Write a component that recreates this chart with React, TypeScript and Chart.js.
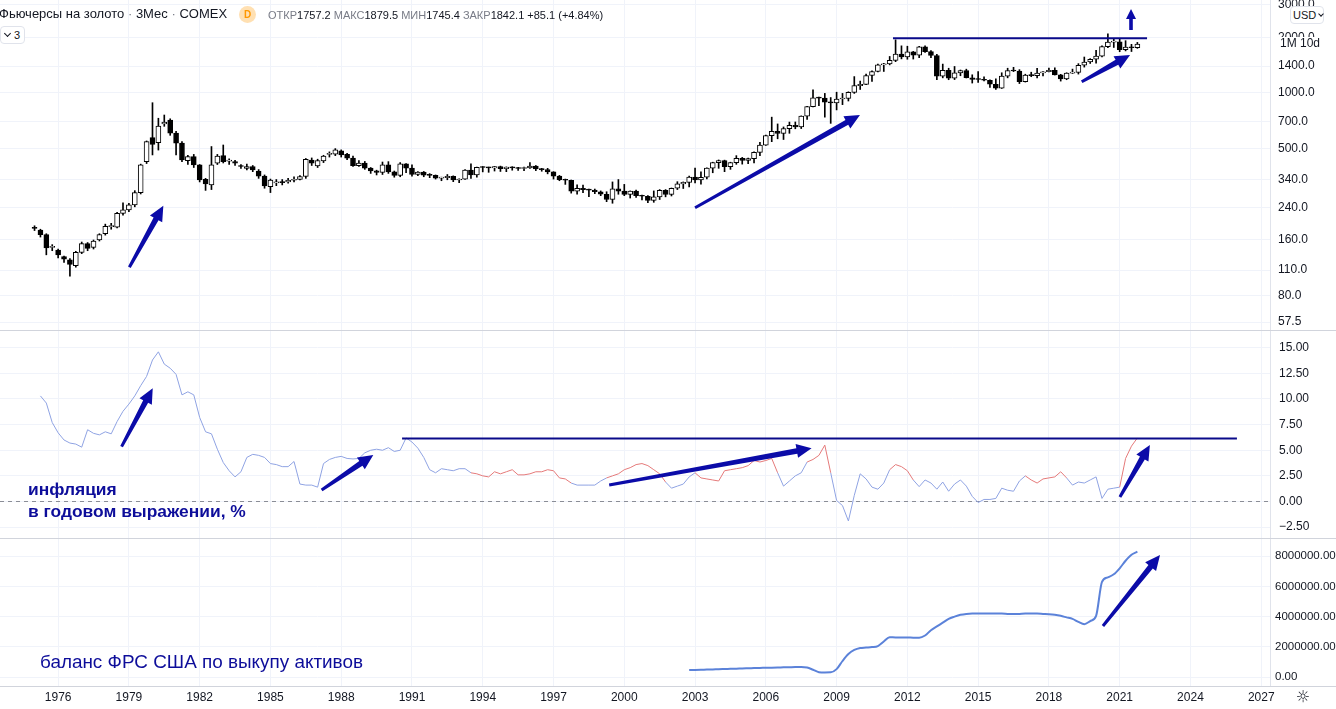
import React, { useEffect, useRef } from "react";
import { Chart, registerables } from "chart.js";

Chart.register(...registerables);

const FONT = "'Liberation Sans', Arial, sans-serif";
const ANNOT_FONT = "'Liberation Sans', Arial, sans-serif";
const TEXT = "#131722";
const GRID = "#f0f3fa";
const SEP = "#d1d4dc";
const LEVEL = "#0a0a8a";
const ARROW = "#0b0ba8";
const ANNOT = "#0d0d9a";
const INFL_BLUE = "#8fa3e3";
const INFL_RED = "#e57a7a";
const FED = "#5b82d9";

const X_MIN = 1973.536;
const X_MAX = 2027.372;

// ---------- data ----------
const firstQuarter = 1975;
const opens = [186,181,171,146,141,130,125,116,137,153,146,160,173,189,188,223,233,248,289,425,
573,539,680,714,606,535,430,452,408,341,318,417,458,428,425,401,390,400,378,355,
311,326,328,330,337,341,353,434,403,429,465,466,486,466,444,404,418,392,379,372,
408,374,358,414,392,362,373,359,358,346,348,354,338,342,383,360,396,395,393,399,
389,397,393,390,393,402,388,385,374,355,339,337,294,305,300,298,292,283,265,303,
294,282,294,278,276,262,274,297,282,305,322,328,351,338,350,392,420,430,399,420,
443,432,441,477,522,588,620,604,642,669,656,750,844,942,939,893,884,928,934,1007,
1097,1113,1244,1307,1421,1439,1502,1624,1566,1669,1604,1776,1675,1596,1234,1328,1202,1284,1322,1210,
1184,1183,1172,1115,1061,1234,1322,1316,1152,1249,1242,1283,1303,1327,1254,1192,1282,1293,1413,1472,
1523,1583,1781,1887,1895,1715,1771,1757.2];
const highs = [191,183,173,151,143,131,127,139,156,155,160,173,195,197,226,254,253,296,412,550,
886,730,760,725,620,545,460,465,410,345,513,465,523,440,432,410,412,405,385,360,
342,340,340,345,352,357,442,445,438,460,480,500,492,472,455,430,426,395,382,423,
425,378,420,415,408,375,376,366,360,350,362,356,343,385,414,397,400,397,400,402,
398,399,396,397,420,405,391,391,375,358,342,338,318,317,302,302,295,292,330,340,
320,295,298,280,278,295,300,300,306,331,330,355,392,374,393,422,434,433,422,458,
448,444,480,540,591,740,680,655,696,697,752,848,1040,950,995,945,1010,995,1015,1227,
1160,1265,1320,1432,1448,1577,1940,1800,1792,1680,1790,1800,1697,1617,1434,1362,1392,1332,1346,1255,
1308,1224,1178,1192,1287,1362,1377,1338,1264,1296,1362,1306,1366,1369,1262,1287,1347,1442,1566,1535,
1704,1800,2089,1966,1962,1920,1834,1879.5];
const lows = [180,166,133,140,128,121,102,114,135,140,143,158,170,183,186,218,228,242,284,415,
462,491,660,590,462,425,410,395,330,297,300,410,418,410,405,390,383,375,345,305,
289,315,318,325,330,338,345,405,395,420,450,458,450,435,401,400,386,367,360,362,
367,350,352,370,355,357,352,348,342,335,339,331,327,340,345,350,374,372,378,376,
375,382,381,380,390,380,377,365,342,335,320,287,283,289,275,285,278,258,253,283,
278,270,272,264,255,256,265,274,277,300,304,310,326,321,343,370,391,375,386,411,
412,414,418,458,520,545,565,560,605,640,642,720,840,855,740,685,810,865,905,995,
1045,1110,1155,1300,1308,1420,1478,1530,1523,1527,1555,1660,1555,1180,1208,1180,1182,1240,1206,1132,
1142,1162,1072,1046,1058,1208,1306,1125,1146,1225,1205,1236,1302,1251,1160,1180,1276,1266,1381,1445,
1451,1568,1757,1764,1673,1690,1677,1745.4];
const closes = [185,171,145,147,133,126,118,137,153,144,158,171,190,190,223,233,248,289,408,545,
527,663,695,606,535,434,452,408,338,322,408,456,425,429,417,400,400,383,355,314,
338,327,327,337,339,353,438,417,431,456,466,492,462,444,404,418,392,379,372,408,
374,358,414,392,362,373,359,358,346,348,354,338,342,383,360,396,395,393,399,389,
397,393,390,393,402,388,385,374,355,339,337,294,305,300,298,292,283,265,303,294,
282,294,278,276,262,274,297,282,305,322,328,351,338,350,392,420,430,399,420,443,
432,441,477,522,588,620,604,642,669,656,750,844,942,939,893,884,928,934,1007,1097,
1113,1244,1307,1421,1439,1502,1624,1566,1669,1604,1776,1675,1596,1234,1328,1202,1284,1322,1210,1184,
1183,1172,1115,1061,1234,1322,1316,1152,1249,1242,1283,1303,1327,1254,1192,1282,1293,1413,1472,1523,
1583,1781,1887,1895,1715,1771,1757,1842.1];
const quarterTimes = opens.map((_, i) => firstQuarter + i * 0.25);

const inflationStart = 1975.25;
const inflationValues = [10.3,9.6,7.7,6.7,6.0,5.7,5.6,5.3,7.0,6.65,
6.5,6.8,6.6,7.8,8.8,9.5,10.3,11.3,12.2,13.8,
14.6,13.4,13.0,12.4,10.4,10.7,10.4,8.2,6.8,6.6,
5.1,3.8,3.0,2.4,2.9,4.3,4.6,4.5,4.3,3.7,
3.6,3.4,3.4,3.9,1.7,1.6,1.6,1.4,3.7,4.1,
4.3,4.4,4.2,4.15,4.2,4.75,5.0,5.1,5.0,5.25,
4.88,5.0,6.2,5.8,5.2,4.3,3.1,2.8,3.2,3.1,
3.0,3.2,3.2,2.8,2.7,2.5,2.4,2.9,2.7,2.9,
3.1,2.6,2.6,2.7,2.9,2.9,3.1,3.0,2.3,2.2,
1.8,1.6,1.6,1.6,1.6,2.0,2.3,2.5,2.7,3.1,
3.3,3.6,3.7,3.5,3.1,2.7,1.9,1.3,1.5,1.7,
2.4,2.8,2.3,2.2,2.1,2.0,3.0,3.1,3.2,3.3,
3.5,4.0,3.85,4.0,4.2,2.8,1.5,2.0,2.5,2.8,
3.85,4.1,4.5,5.5,2.8,0.1,-0.4,-1.9,0.6,2.7,
2.2,1.4,1.2,1.8,3.1,3.6,3.4,3.0,2.1,1.45,
2.1,1.8,1.2,1.9,1.0,1.7,2.1,1.5,0.5,-0.1,
0.2,0.2,0.3,1.3,1.1,1.0,2.0,2.5,2.1,1.8,
2.2,2.3,2.4,2.9,2.3,1.6,1.9,1.8,2.1,2.4,
0.3,1.2,1.3,1.4,4.2,5.4,6.2];
const inflationRedRanges = [[1993.4, 1997.7],[1999.25, 2001.6],[2002.85, 2006.45],[2007.55, 2008.6],[2011.1, 2012.1],[2016.9, 2018.7],[2021.0, 2022.0]];

const fedStart = 2002.75;
const fedValues = [460000,
470000,480000,490000,500000,
520000,530000,540000,550000,
570000,580000,590000,600000,
610000,620000,630000,640000,
650000,660000,660000,630000,
480000,320000,300000,310000,
520000,1060000,1520000,1790000,
1920000,1950000,1980000,2050000,
2350000,2630000,2620000,2620000,
2620000,2600000,2600000,2750000,
3100000,3350000,3600000,3850000,
4000000,4120000,4180000,4200000,
4200000,4200000,4200000,4200000,
4200000,4180000,4170000,4180000,
4200000,4200000,4200000,4180000,
4160000,4120000,4050000,3950000,
3850000,3650000,3500000,3700000,
4050000,6300000,6600000,6800000,
7200000,7700000,8100000,8300000];

const yearTicks = [1976,1979,1982,1985,1988,1991,1994,1997,2000,2003,2006,2009,2012,2015,2018,2021,2024,2027];
const priceTicks = [57.5,80,110,160,240,340,500,700,1000,1400,2000,3000];
const inflationTicks = [-2.5,0,2.5,5,7.5,10,12.5,15];
const fedTicks = [0,2000000,4000000,6000000,8000000];

// annotations (data units)
const priceArrows = [
  { x0: 1979.02, y0: 114, x1: 1980.46, y1: 245 },
  { x0: 2003.0, y0: 239, x1: 2009.99, y1: 760 },
  { x0: 2019.39, y0: 1151, x1: 2021.44, y1: 1606 },
];
const priceUpArrows = [{ x0: 2021.48, y0: 2192, x1: 2021.48, y1: 2850 }];
const priceLevel = { from: 2011.39, to: 2022.16, value: 1980 };
const inflationArrows = [
  { x0: 1978.69, y0: 5.35, x1: 1980.01, y1: 11.04 },
  { x0: 1987.17, y0: 1.12, x1: 1989.36, y1: 4.54 },
  { x0: 1999.36, y0: 1.61, x1: 2007.94, y1: 5.19 },
  { x0: 2021.01, y0: 0.44, x1: 2022.28, y1: 5.51 },
];
const inflationLevel = { from: 1990.58, to: 2025.97, value: 6.15 };
const fedArrows = [{ x0: 2020.29, y0: 3380000, x1: 2022.71, y1: 8080000 }];

// ---------- helpers ----------
function drawArrow(ctx: any, x1: number, y1: number, x2: number, y2: number, st: any) {
  const dx = x2 - x1, dy = y2 - y1;
  const len = Math.hypot(dx, dy);
  const ux = dx / len, uy = dy / len;
  const nx = -uy, ny = ux;
  const bx = x2 - ux * st.head, by = y2 - uy * st.head;
  ctx.beginPath();
  ctx.moveTo(x1 + nx * st.tail, y1 + ny * st.tail);
  ctx.lineTo(bx + nx * st.neck, by + ny * st.neck);
  ctx.lineTo(bx + nx * st.half, by + ny * st.half);
  ctx.lineTo(x2, y2);
  ctx.lineTo(bx - nx * st.half, by - ny * st.half);
  ctx.lineTo(bx - nx * st.neck, by - ny * st.neck);
  ctx.lineTo(x1 - nx * st.tail, y1 - ny * st.tail);
  ctx.closePath();
  ctx.fill();
}
const BIG_ARROW = { head: 15, half: 7, tail: 1.5, neck: 2.8 };
const UP_ARROW = { head: 10, half: 5, tail: 1.8, neck: 1.8 };

function arrowPlugin(groups: { arrows: any[]; style: any }[]) {
  return {
    id: "arrows",
    afterDatasetsDraw(chart: any) {
      const { ctx } = chart;
      const xs = chart.scales.x, ys = chart.scales.y;
      ctx.save();
      ctx.fillStyle = ARROW;
      groups.forEach((g) =>
        g.arrows.forEach((a) =>
          drawArrow(ctx, xs.getPixelForValue(a.x0), ys.getPixelForValue(a.y0), xs.getPixelForValue(a.x1), ys.getPixelForValue(a.y1), g.style)
        )
      );
      ctx.restore();
    },
  };
}

function xScale(showLabels: boolean) {
  return {
    type: "linear",
    min: X_MIN,
    max: X_MAX,
    offset: false,
    afterBuildTicks: (s: any) => { s.ticks = yearTicks.map((v) => ({ value: v })); },
    afterFit: (s: any) => {
      s.height = showLabels ? 23 : 0;
      s.paddingLeft = 0; s.paddingRight = 0; s.paddingTop = 0; s.paddingBottom = 0;
    },
    grid: { color: GRID, drawTicks: false, offset: false },
    border: { display: false },
    ticks: {
      display: showLabels, autoSkip: false, maxRotation: 0, padding: 4,
      color: TEXT, font: { size: 12, family: FONT }, callback: (v: any) => String(v),
    },
  };
}

function yScale(type: string, min: number, max: number, ticks: number[], digits: number, fontSize: number, pad: number) {
  return {
    type, position: "right", min, max, beginAtZero: false,
    afterBuildTicks: (s: any) => { s.ticks = ticks.map((v) => ({ value: v })); },
    afterFit: (s: any) => {
      s.width = 66;
      s.paddingLeft = 0; s.paddingRight = 0; s.paddingTop = 0; s.paddingBottom = 0;
    },
    grid: { color: GRID, drawTicks: false },
    border: { display: true, color: "#e0e3eb" },
    ticks: {
      autoSkip: false, padding: pad, color: TEXT, font: { size: fontSize, family: FONT },
      callback: (v: any) => Number(v).toFixed(digits).replace("-", "\u2212"),
    },
  };
}

const baseOptions = {
  responsive: false,
  maintainAspectRatio: false,
  animation: false,
  events: [],
  layout: { padding: 0, autoPadding: false },
  plugins: { legend: { display: false }, tooltip: { enabled: false } },
};

function isRed(t: number) {
  return inflationRedRanges.some(([a, b]) => t >= a && t < b);
}

export default function App() {
  const r1 = useRef<HTMLCanvasElement>(null);
  const r2 = useRef<HTMLCanvasElement>(null);
  const r3 = useRef<HTMLCanvasElement>(null);

  useEffect(() => {
    document.body.style.margin = "0";
    const c1 = new Chart(r1.current as any, {
      type: "bar",
      data: {
        datasets: [
          {
            type: "bar",
            data: quarterTimes.map((t, i) => ({ x: t, y: [Math.min(opens[i], closes[i]), Math.max(opens[i], closes[i])] })),
            backgroundColor: quarterTimes.map((_, i) => (closes[i] >= opens[i] ? "#ffffff" : "#000000")),
            borderColor: "#000000",
            borderWidth: 1,
            borderSkipped: false,
            barThickness: 5,
            minBarLength: 1,
            grouped: false,
            order: 0,
          },
          {
            type: "bar",
            data: quarterTimes.map((t, i) => ({ x: t, y: [lows[i], highs[i]] })),
            backgroundColor: "#000000",
            borderWidth: 0,
            barThickness: 1,
            grouped: false,
            order: 1,
          },
          {
            type: "line",
            data: [{ x: priceLevel.from, y: priceLevel.value }, { x: priceLevel.to, y: priceLevel.value }],
            borderColor: LEVEL, borderWidth: 2, pointRadius: 0, order: -1,
          },
        ],
      } as any,
      options: {
        ...baseOptions,
        scales: { x: xScale(false), y: yScale("logarithmic", 52.1, 3188, priceTicks, 1, 12, 8) },
      } as any,
      plugins: [arrowPlugin([{ arrows: priceArrows, style: BIG_ARROW }, { arrows: priceUpArrows, style: UP_ARROW }])],
    });

    const c2 = new Chart(r2.current as any, {
      type: "line",
      data: {
        datasets: [
          {
            data: inflationValues.map((v, i) => ({ x: inflationStart + i * 0.25, y: v })),
            borderColor: INFL_BLUE, borderWidth: 1, pointRadius: 0,
            segment: { borderColor: (ctx: any) => (isRed(ctx.p0.parsed.x) ? INFL_RED : INFL_BLUE) },
            order: 1,
          },
          {
            data: [{ x: X_MIN, y: 0 }, { x: X_MAX, y: 0 }],
            borderColor: "#8a8d96", borderWidth: 1, borderDash: [4, 4], pointRadius: 0, order: 2,
          },
          {
            data: [{ x: inflationLevel.from, y: inflationLevel.value }, { x: inflationLevel.to, y: inflationLevel.value }],
            borderColor: LEVEL, borderWidth: 2, pointRadius: 0, order: -1,
          },
        ],
      } as any,
      options: {
        ...baseOptions,
        scales: { x: xScale(false), y: yScale("linear", -3.56, 16.63, inflationTicks, 2, 12, 9) },
      } as any,
      plugins: [arrowPlugin([{ arrows: inflationArrows, style: BIG_ARROW }])],
    });

    const c3 = new Chart(r3.current as any, {
      type: "line",
      data: {
        datasets: [
          {
            data: fedValues.map((v, i) => ({ x: fedStart + i * 0.25, y: v })),
            borderColor: FED, borderWidth: 2, pointRadius: 0, cubicInterpolationMode: "monotone",
          },
        ],
      } as any,
      options: {
        ...baseOptions,
        scales: { x: xScale(true), y: yScale("linear", -596000, 9140000, fedTicks, 2, 11.5, 5) },
      } as any,
      plugins: [arrowPlugin([{ arrows: fedArrows, style: BIG_ARROW }])],
    });

    return () => { c1.destroy(); c2.destroy(); c3.destroy(); };
  }, []);

  const grey = { color: "#787b86" };
  return (
    <div style={{ position: "fixed", left: 0, top: 0, width: 1336, height: 709, background: "#fff", overflow: "hidden", fontFamily: FONT, color: TEXT }}>
      <canvas ref={r1} width={1336} height={330} style={{ position: "absolute", left: 0, top: 0 }} />
      <div style={{ position: "absolute", left: 0, top: 330, width: 1336, height: 1, background: SEP }} />
      <canvas ref={r2} width={1336} height={207} style={{ position: "absolute", left: 0, top: 331 }} />
      <div style={{ position: "absolute", left: 0, top: 538, width: 1336, height: 1, background: SEP }} />
      <canvas ref={r3} width={1336} height={170} style={{ position: "absolute", left: 0, top: 539 }} />
      <div style={{ position: "absolute", left: 0, top: 686, width: 1336, height: 1, background: SEP }} />

      {/* header */}
      <div style={{ position: "absolute", left: -1, top: 5, fontSize: 13, lineHeight: "18px", whiteSpace: "nowrap" }}>
        Фьючерсы на золото <span style={grey}>·</span> 3Мес <span style={grey}>·</span> COMEX
      </div>
      <div style={{ position: "absolute", left: 239, top: 6, width: 17, height: 17, borderRadius: 9, background: "#ffe0b2", color: "#ff9800", fontSize: 10, fontWeight: 700, lineHeight: "17px", textAlign: "center" }}>D</div>
      <div style={{ position: "absolute", left: 268, top: 6, fontSize: 11, lineHeight: "18px", whiteSpace: "nowrap" }}>
        <span style={grey}>ОТКР</span>1757.2 <span style={grey}>МАКС</span>1879.5 <span style={grey}>МИН</span>1745.4 <span style={grey}>ЗАКР</span>1842.1 +85.1 (+4.84%)
      </div>
      <div style={{ position: "absolute", left: 0, top: 26, width: 23, height: 16, border: "1px solid #e0e3eb", borderRadius: 4, fontSize: 11, lineHeight: "16px", background: "#fff", whiteSpace: "nowrap" }}>
        <span style={{ display: "inline-block", width: 4, height: 4, borderRight: "1px solid #131722", borderBottom: "1px solid #131722", transform: "rotate(45deg)", margin: "0 4px 3px 4px" }} />3
      </div>

      {/* price axis overlays */}
      <div style={{ position: "absolute", left: 1290, top: 6, width: 30, height: 16, border: "1px solid #e0e3eb", borderRadius: 4, background: "#fff", fontSize: 11, lineHeight: "16px", whiteSpace: "nowrap", paddingLeft: 2, boxSizing: "content-box" }}>
        USD<span style={{ display: "inline-block", width: 3, height: 3, borderRight: "1px solid #131722", borderBottom: "1px solid #131722", transform: "rotate(45deg)", margin: "0 0 3px 3px" }} />
      </div>
      <div style={{ position: "absolute", left: 1271, top: 37, width: 65, height: 13, background: "#fff", fontSize: 12, lineHeight: "13px", paddingLeft: 9, boxSizing: "border-box", whiteSpace: "nowrap" }}>1M 10d</div>
      <div style={{ position: "absolute", left: 1294, top: 686, width: 18, height: 22, fontFamily: "'DejaVu Sans', sans-serif", fontSize: 16, lineHeight: "22px", textAlign: "center" }}>☼</div>

      {/* annotation texts */}
      <div style={{ position: "absolute", left: 28, top: 478, fontFamily: ANNOT_FONT, fontWeight: 700, fontSize: 17.4, lineHeight: "22px", color: ANNOT, whiteSpace: "nowrap" }}>
        инфляция<br />в годовом выражении, %
      </div>
      <div style={{ position: "absolute", left: 40, top: 651, fontFamily: ANNOT_FONT, fontSize: 18.9, lineHeight: "22px", color: ANNOT, whiteSpace: "nowrap" }}>
        баланс ФРС США по выкупу активов
      </div>
    </div>
  );
}
